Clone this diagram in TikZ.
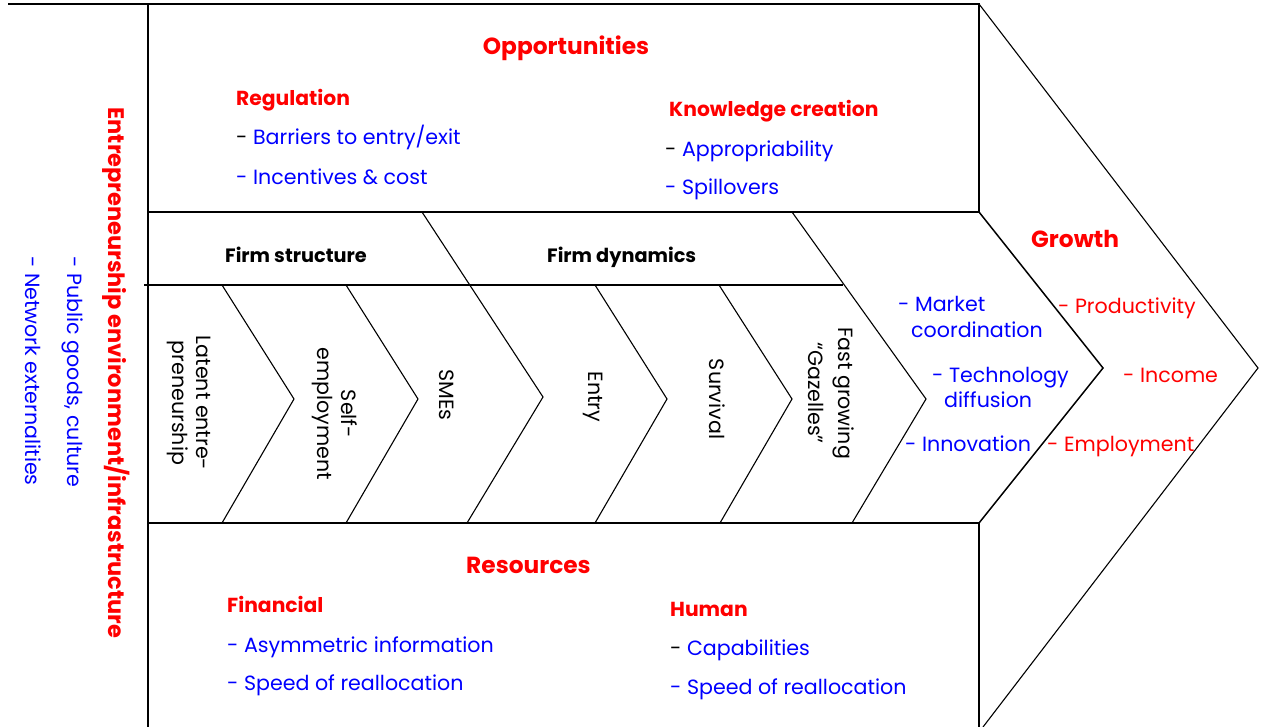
\documentclass[tikz,border=0pt]{standalone}
\usepackage{fontspec}
\setmainfont{Poppins}
\definecolor{hred}{RGB}{255,0,0}
\definecolor{iblue}{RGB}{0,0,255}
\tikzset{
  frame/.style={line width=1.5pt, line join=miter},
  thin/.style={line width=1.1pt, line join=miter},
  txt/.style={inner sep=0pt, font=\fontsize{20.6}{24}\selectfont},
  head/.style={txt, text=hred, font=\fontsize{20.3}{24}\selectfont\bfseries},
  bighead/.style={txt, text=hred, font=\fontsize{23.3}{28}\selectfont\bfseries},
  item/.style={txt, text=iblue, anchor=base west},
  gitem/.style={txt, text=hred, anchor=base west},
  black/.style={txt, text=black, font=\fontsize{19.3}{23}\selectfont\bfseries, anchor=base west},
  vert/.style={txt, rotate=-90, align=center},
}
\begin{document}
\begin{tikzpicture}[x=1pt,y=-1pt]
\useasboundingbox (0,0) rectangle (1263,727);
% coordinates
\coordinate (tl) at (8,4);
\coordinate (tr) at (979,4);
\coordinate (tip) at (1258,368);
\coordinate (bo) at (983,727);
% frame
\draw[frame] (tl) -- (tr) -- (979,212);
\draw[thin] (tr) -- (tip) -- (bo);
\draw[frame] (148,4) -- (148,727);
\draw[frame] (979,523) -- (979,727);
\draw[frame] (148,212) -- (979,212);
\draw[frame] (148,523) -- (979,523);
\draw[frame] (144,285) -- (843,285);
\draw[frame] (979,212) -- (1103,368) -- (979,523);
% chevrons
\draw[thin] (222,285) -- (294,399) -- (222,523);
\draw[thin] (346,285) -- (418,399) -- (346,523);
\draw[thin] (422,212) -- (543,397) -- (467,523);
\draw[thin] (595,285) -- (667,399) -- (595,523);
\draw[thin] (719,285) -- (792,399) -- (720,523);
\draw[thin] (792,212) -- (926,399) -- (852,523);
% left band
\node[txt, rotate=-90, text=hred, font=\fontsize{22.5}{26}\selectfont\bfseries] (env) at (116,373) {Entrepreneurship environment/infrastructure};
\node[txt, rotate=-90, text=iblue] (pub) at (73,372) {- Public goods, culture};
\node[txt, rotate=-90, text=iblue] (net) at (33,371) {- Network externalities};
% opportunities
\node[bighead] (opp) at (566,48) {Opportunities};
\node[head, anchor=base west] (reg) at (236,106) {Regulation};
\node[item] (bar) at (236,145) {\textcolor{black}{-} Barriers to entry/exit};
\node[item] (inc) at (236,185) {- Incentives \& cost};
\node[head, anchor=base west] (kno) at (669,117) {Knowledge creation};
\node[item] (app) at (665,157) {\textcolor{black}{-} Appropriability};
\node[item] (spi) at (665,195) {- Spillovers};
% firm
\node[black] (fs) at (225,262) {Firm structure};
\node[black] (fd) at (547,262) {Firm dynamics};
\node[vert] (lat) at (189,403) {Latent entre-\\preneurship};
\node[vert] (self) at (335,414) {Self-\\employment};
\node[vert] (sme) at (447,395) {SMEs};
\node[vert] (ent) at (593,397) {Entry};
\node[vert] (sur) at (717,399) {Survival};
\node[vert] (gaz) at (831,393) {Fast growing\\[6pt]“Gazelles”};
% middle
\node[item] (mar) at (898,311) {- Market};
\node[item] (coo) at (911,337) {coordination};
\node[item] (tec) at (932,382) {- Technology};
\node[item] (dif) at (944,407) {diffusion};
\node[item] (inn) at (905,451) {- Innovation};
% growth
\node[bighead, anchor=base west] (gro) at (1031,248) {Growth};
\node[gitem] (pro) at (1058,313) {- Productivity};
\node[gitem] (inc2) at (1123,382) {- Income};
\node[gitem] (emp) at (1047,451) {- Employment};
% resources
\node[bighead, anchor=base west] (res) at (466,573) {Resources};
\node[head, anchor=base west] (fin) at (227,612) {Financial};
\node[item] (asy) at (227,652) {- Asymmetric information};
\node[item] (spe) at (227,690) {- Speed of reallocation};
\node[head, anchor=base west] (hum) at (670,616) {Human};
\node[item] (cap) at (670,655) {\textcolor{black}{-} Capabilities};
\node[item] (spe2) at (670,694) {- Speed of reallocation};
\end{tikzpicture}
\end{document}
